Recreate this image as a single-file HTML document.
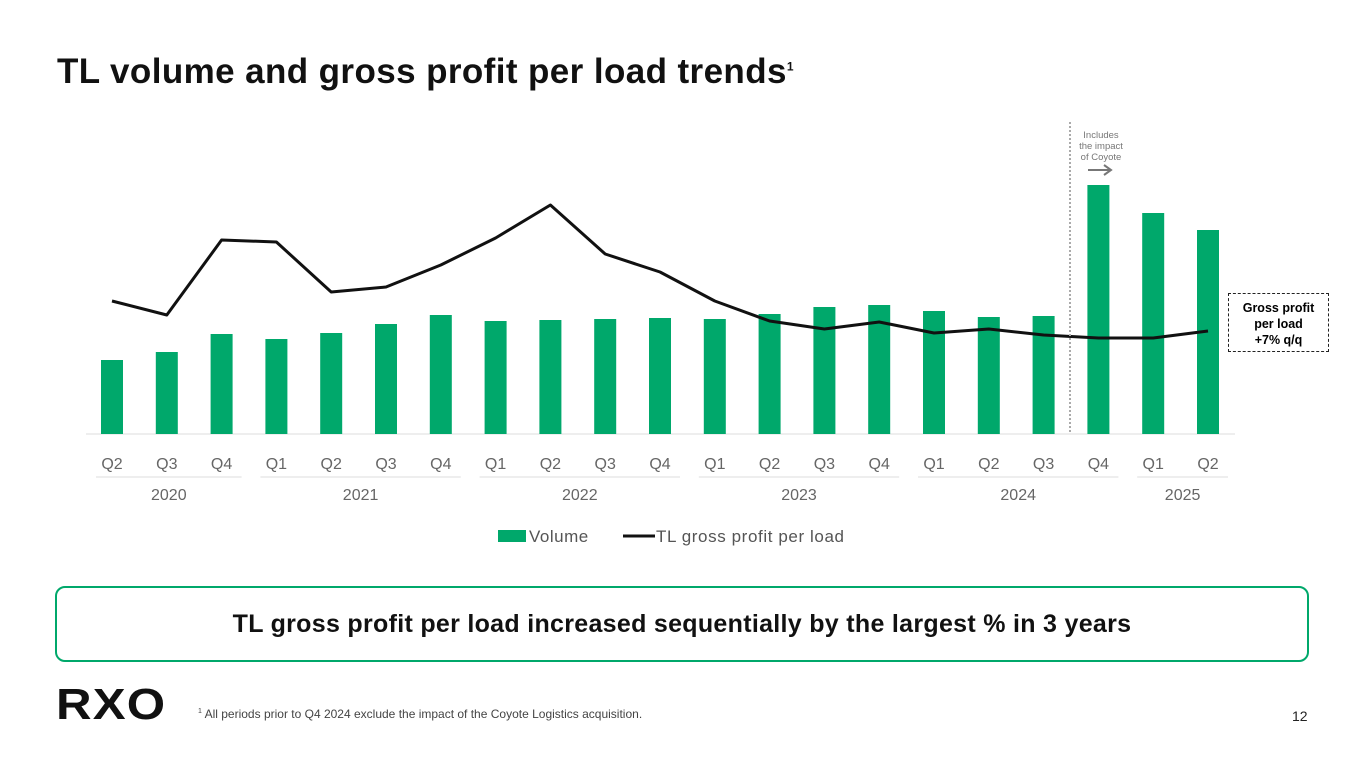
<!DOCTYPE html>
<html><head><meta charset="utf-8"><style>
body{margin:0;width:1365px;height:768px;background:#fff;font-family:"Liberation Sans",sans-serif;overflow:hidden;position:relative}
.abs{position:absolute}
</style></head><body>
<div class="abs" style="left:57px;top:52px;font-size:35px;font-weight:bold;color:#111;letter-spacing:0.4px">TL volume and gross profit per load trends<sup style="font-size:12px">1</sup></div>
<svg class="abs" style="left:0;top:0" width="1365" height="580" id="chart"></svg>
<div class="abs" style="left:1228px;top:293px;width:101px;height:59px;border:1.5px dashed #222;font-size:12.5px;font-weight:bold;text-align:center;line-height:16px;box-sizing:border-box;padding-top:6px">Gross profit<br>per load<br>+7% q/q</div>
<div class="abs" style="left:55px;top:586px;width:1254px;height:76px;border:2px solid #00a86b;border-radius:10px;box-sizing:border-box;text-align:center;line-height:72px;font-size:25px;font-weight:bold;color:#111;letter-spacing:0.3px">TL gross profit per load increased sequentially by the largest % in 3 years</div>
<div class="abs" style="left:56px;top:680px;font-size:44px;font-weight:900;letter-spacing:1px;color:#111;transform:scaleX(1.12);transform-origin:left">RXO</div>
<div class="abs" style="left:198px;top:707px;font-size:12px;color:#444"><sup style="font-size:7px">1</sup> All periods prior to Q4 2024 exclude the impact of the Coyote Logistics acquisition.</div>
<div class="abs" style="left:1292px;top:708px;font-size:14px;color:#222">12</div>
<script>
const quarters=["Q2","Q3","Q4","Q1","Q2","Q3","Q4","Q1","Q2","Q3","Q4","Q1","Q2","Q3","Q4","Q1","Q2","Q3","Q4","Q1","Q2"];
const volume=[74,82,100,95,101,110,119,113,114,115,116,115,120,127,129,123,117,118,249,221,204];
const gpPerLoad=[133,119,194,192,142,147,169,196,229,180,162,133,113,105,112,101,105,99,96,96,103];
const years=["2020","2021","2022","2023","2024","2025"];
const yearStart=[0,3,7,11,15,19];
const yearEnd=[2,6,10,14,18,20];
const svg=document.getElementById('chart');
const NS='http://www.w3.org/2000/svg';
const x0=112,dx=54.8,base=434;
const xs=i=>x0+i*dx;
const yV=v=>base-v;
const yL=v=>434-v;
function mk(t,a){const e=document.createElementNS(NS,t);for(const k in a)e.setAttribute(k,a[k]);svg.appendChild(e);return e;}
let ax=mk('line',{x1:86,x2:1235,y1:base,y2:base,stroke:'#ddd','stroke-width':1});


volume.forEach((v,i)=>{const r=mk('rect',{x:xs(i)-11,y:yV(v),width:22,height:base-yV(v),fill:'#00a86b'});

});
const pl=mk('polyline',{points:gpPerLoad.map((v,i)=>xs(i)+','+yL(v)).join(' '),fill:'none',stroke:'#111','stroke-width':3,'stroke-linejoin':'round'});


quarters.forEach((q,i)=>{const t=mk('text',{x:xs(i),y:469,'text-anchor':'middle','font-size':16,fill:'#666','font-family':'Liberation Sans'});t.textContent=q;

});
years.forEach((y,k)=>{const a=xs(yearStart[k])-16,b=xs(yearEnd[k])+20;
const l=mk('line',{x1:a,x2:b,y1:477,y2:477,stroke:'#ddd'});


const t=mk('text',{x:(a+b)/2,y:500,'text-anchor':'middle','font-size':16,fill:'#666','font-family':'Liberation Sans'});t.textContent=y;

});
const dv=mk('line',{x1:1070,x2:1070,y1:122,y2:434,stroke:'#aaa','stroke-width':2,'stroke-dasharray':'2,2'});


["Includes","the impact","of Coyote"].forEach((s,i)=>{const t=mk('text',{x:1101,y:138+i*11,'text-anchor':'middle','font-size':9.5,fill:'#777','font-family':'Liberation Sans'});t.textContent=s;

});
const ar=mk('path',{d:'M1088 170 H1110 M1104 165 L1111 170 L1104 175',stroke:'#777','stroke-width':2,fill:'none'});


const lr=mk('rect',{x:498,y:530,width:28,height:12,fill:'#00a86b'});


const lt=mk('text',{x:529,y:542,'font-size':17,fill:'#555','font-family':'Liberation Sans','letter-spacing':'0.5'});lt.textContent='Volume';


const ll=mk('line',{x1:623,x2:655,y1:536,y2:536,stroke:'#111','stroke-width':3});


const lt2=mk('text',{x:656,y:542,'font-size':17,fill:'#555','font-family':'Liberation Sans','letter-spacing':'0.6'});lt2.textContent='TL gross profit per load';


</script>
</body></html>
